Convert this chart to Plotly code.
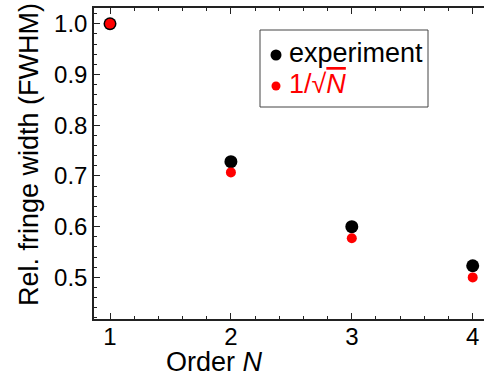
import plotly.graph_objects as go

orders = [1, 2, 3, 4]
experiment = [1.0, 0.728, 0.600, 0.523]
theory = [1.0, 0.707, 0.577, 0.500]
x_ticks = [1, 2, 3, 4]
y_ticks = [0.5, 0.6, 0.7, 0.8, 0.9, 1.0]
y_ticklabels = ["0.5", "0.6", "0.7", "0.8", "0.9", "1.0"]
series_names = ["experiment", "1/√<span style='text-decoration:overline'><i>N</i></span>"]
series_colors = ["black", "#ff0000"]

FONT = "Arial, Liberation Sans, Helvetica, sans-serif"
AX = "#222222"
W, H = 484, 379
ML, MR, MT, MB = 94, 0, 8, 60
PW, PH = W - ML - MR, H - MT - MB


def px_x(p):
    return (p - ML) / PW


def px_y(p):
    return (H - MB - p) / PH


fig = go.Figure()
fig.add_trace(go.Scatter(x=orders, y=experiment, mode="markers", name=series_names[0],
                         marker=dict(color=series_colors[0], size=13), showlegend=False))
fig.add_trace(go.Scatter(x=orders, y=theory, mode="markers", name=series_names[1],
                         marker=dict(color=series_colors[1], size=10), showlegend=False))

# manual legend box
shapes = [dict(type="rect", xref="paper", yref="paper",
               x0=px_x(260), x1=px_x(428), y0=px_y(107), y1=px_y(30),
               line=dict(color="#444444", width=1), fillcolor="white", layer="below")]
annotations = []
leg_rows = [55, 86]
leg_sizes = [11, 9]
for name, col, ry, sz in zip(series_names, series_colors, leg_rows, leg_sizes):
    shapes.append(dict(type="circle", xref="paper", yref="paper",
                       xsizemode="pixel", ysizemode="pixel",
                       xanchor=px_x(276), yanchor=px_y(ry),
                       x0=-sz / 2, x1=sz / 2, y0=-sz / 2, y1=sz / 2,
                       fillcolor=col, line=dict(width=0)))
    annotations.append(dict(xref="paper", yref="paper", x=px_x(287), y=px_y(ry - 2),
                            xanchor="left", yanchor="middle", showarrow=False,
                            text=name, font=dict(size=27, color=col, family=FONT)))

# axis titles
annotations.append(dict(xref="paper", yref="paper", x=px_x(214), y=px_y(362),
                        xanchor="center", yanchor="middle", showarrow=False,
                        text="Order <i>N</i>", font=dict(size=27, family=FONT, color="black")))
annotations.append(dict(xref="paper", yref="paper", x=px_x(29), y=px_y(155),
                        xanchor="center", yanchor="middle", showarrow=False, textangle=-90,
                        text="Rel. fringe width (FWHM)", font=dict(size=27, family=FONT, color="black")))

fig.update_layout(
    width=W, height=H,
    margin=dict(l=ML, r=MR, t=MT, b=MB, autoexpand=False),
    plot_bgcolor="white", paper_bgcolor="white",
    font=dict(family=FONT, size=24, color="black"),
    showlegend=False,
    shapes=shapes, annotations=annotations,
)
fig.update_xaxes(
    range=[0.8677, 4.0934], tickvals=x_ticks, ticktext=[str(v) for v in x_ticks],
    automargin=False, ticklabelstandoff=-5,
    showline=True, linecolor=AX, linewidth=1.5, mirror="ticks",
    ticks="inside", ticklen=6, tickwidth=1.2, tickcolor=AX,
    minor=dict(dtick=0.2, ticks="inside", ticklen=3.5, tickwidth=1.2, tickcolor=AX, tick0=0),
    showgrid=False, zeroline=False,
)
fig.update_yaxes(
    range=[0.418, 1.031], tickvals=y_ticks, ticktext=y_ticklabels,
    automargin=False, ticklabelstandoff=0,
    showline=True, linecolor=AX, linewidth=1.5, mirror=False,
    ticks="inside", ticklen=6, tickwidth=1.2, tickcolor=AX,
    minor=dict(dtick=0.02, ticks="inside", ticklen=3.5, tickwidth=1.2, tickcolor=AX, tick0=0),
    showgrid=False, zeroline=False,
)

fig.write_html("out.html", config={"displayModeBar": False},
               post_script="document.body.style.margin='0';document.body.style.overflow='hidden';")
